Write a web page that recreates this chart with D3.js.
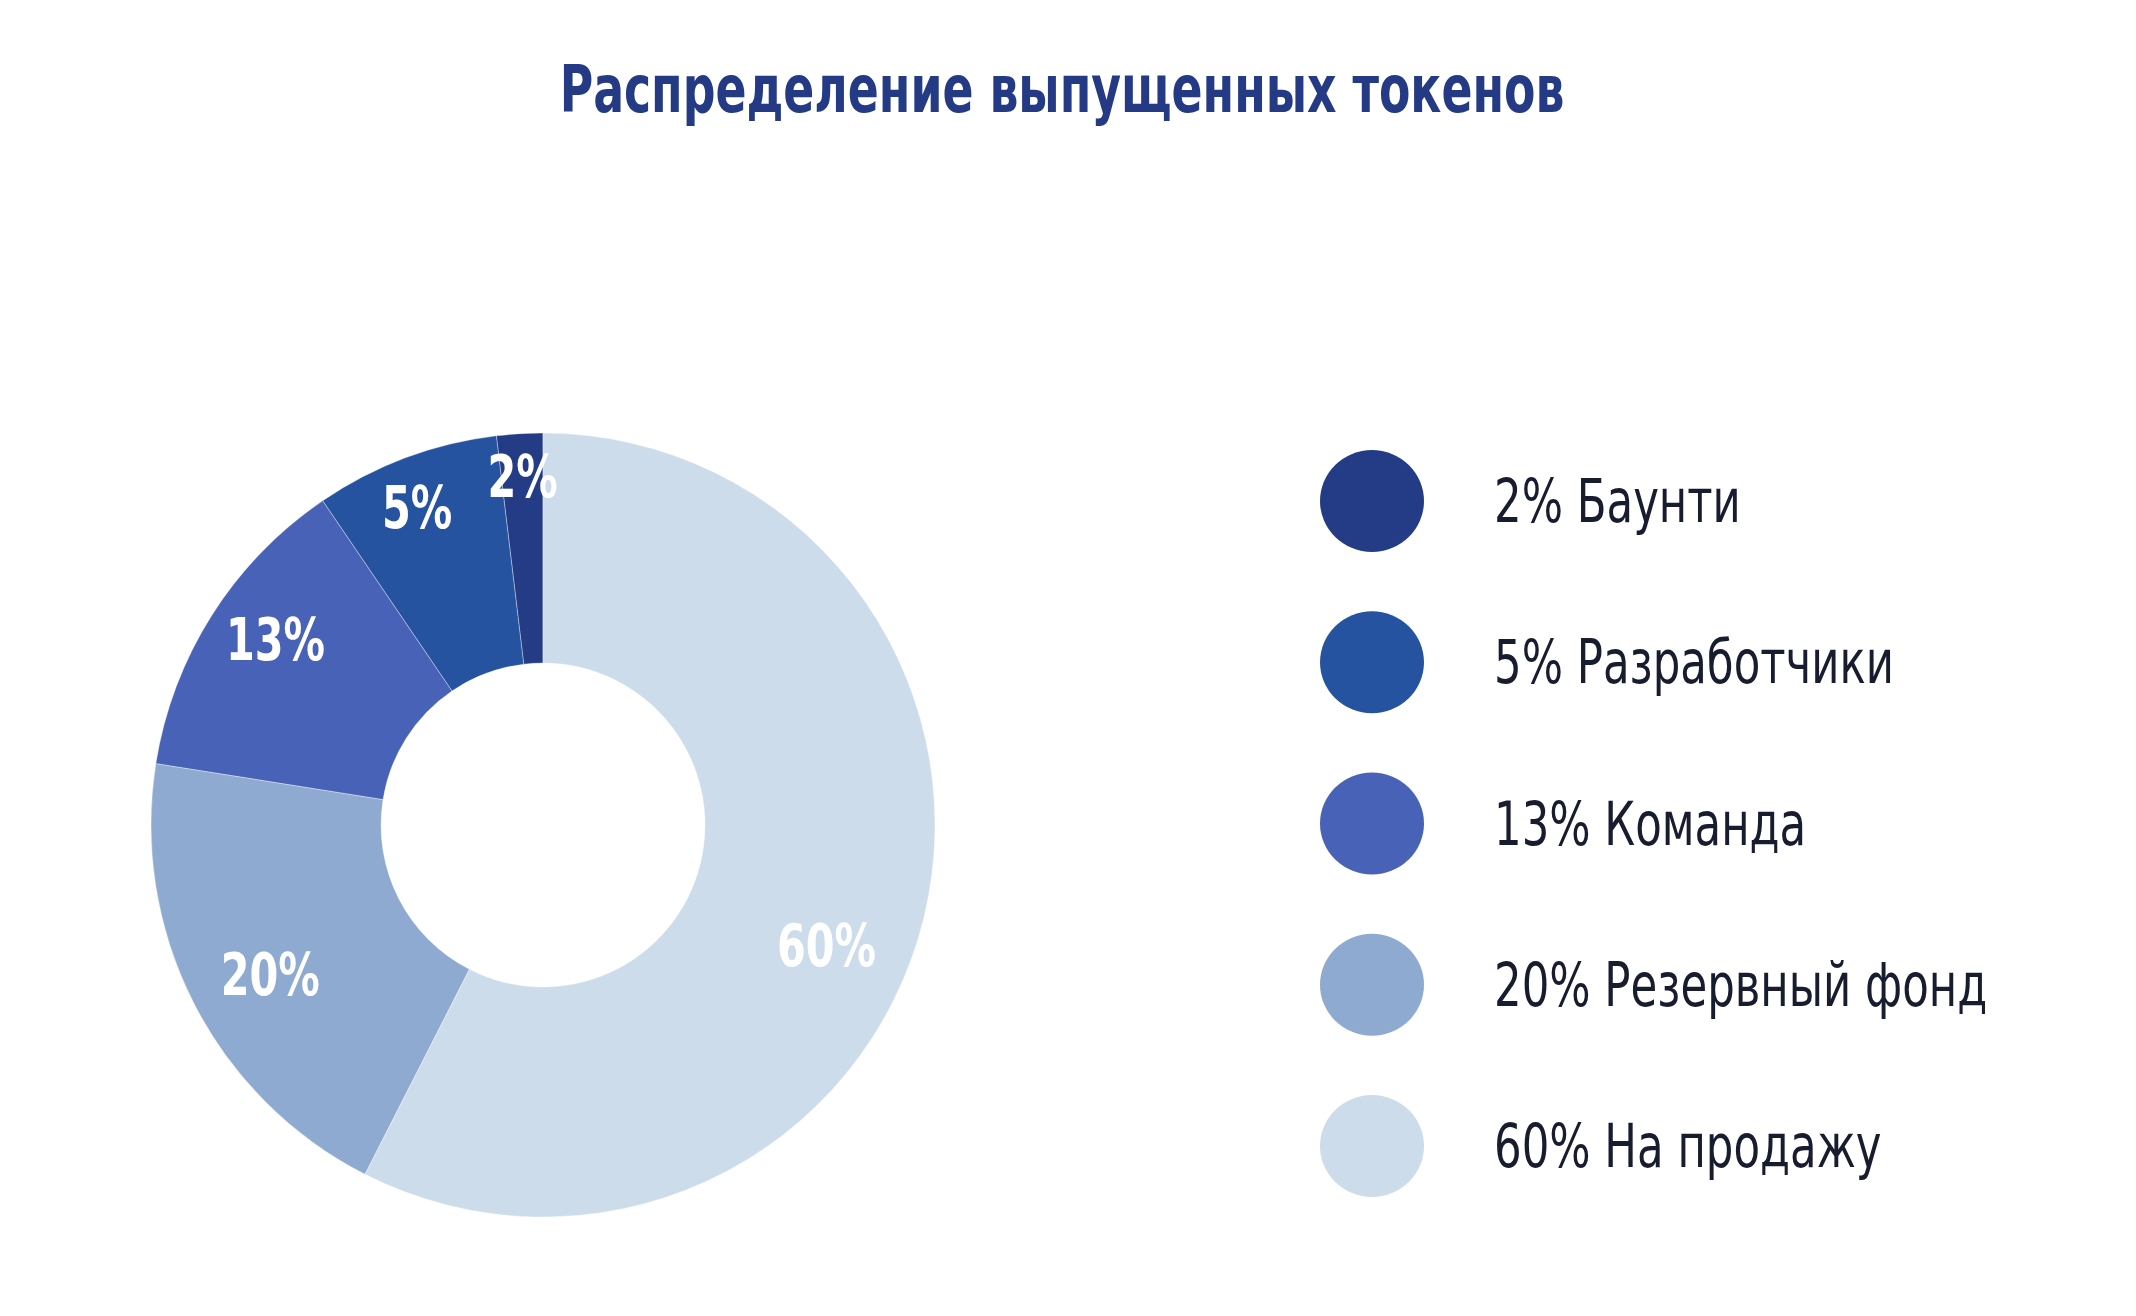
<!DOCTYPE html>
<html>
<head>
<meta charset="utf-8">
<script src="https://cdn.jsdelivr.net/npm/d3@7"></script>
<style>
  html, body { margin: 0; padding: 0; background: #ffffff; }
  svg { display: block; }
  .narrow { font-family: "Liberation Sans Narrow", "DejaVu Sans Condensed", "DejaVu Sans", sans-serif; }
</style>
</head>
<body>
<svg id="chart" width="2136" height="1316"></svg>
<script>
// ---- data ----
const title = "Распределение выпущенных токенов";
const categories = ["Баунти", "Разработчики", "Команда", "Резервный фонд", "На продажу"];
const percentLabels = ["2%", "5%", "13%", "20%", "60%"];
// slice sizes as drawn in the reference picture
const shares = [1.9, 7.6, 13.0, 20.0, 57.5];
const colors = ["#243b85", "#2653a0", "#4862b7", "#8eaad0", "#cddcea"];

// ---- style / layout ----
const cx = 543, cy = 825;
const outerR = 392, innerR = 162;
const narrowX = 0.78;                 // horizontal squeeze to mimic a narrow face
// small label placement nudges (px), same order as categories
const labelNudge = [[0, -8], [-12, -14], [0, -16], [5, 7], [-16, 48]];

const svg = d3.select("#chart");

function squeezedText(sel, x, y, sx) {
  return sel.append("text")
    .attr("class", "narrow")
    .attr("transform", `translate(${x},${y}) scale(${sx},1)`);
}

squeezedText(svg, 1062, 112, 0.77)
  .attr("text-anchor", "middle")
  .attr("font-weight", "bold")
  .attr("font-size", 66)
  .attr("fill", "#243a84")
  .text(title);

const data = categories.map((c, i) => ({ name: c, label: percentLabels[i], value: shares[i], color: colors[i], nudge: labelNudge[i] }));

const pie = d3.pie().value(d => d.value).sort(null)
  .startAngle(0).endAngle(-2 * Math.PI);
const arcs = pie(data);

const arc = d3.arc().innerRadius(innerR).outerRadius(outerR);

const g = svg.append("g").attr("transform", `translate(${cx},${cy})`);

g.selectAll("path.slice")
  .data(arcs)
  .join("path")
  .attr("class", "slice")
  .attr("d", arc)
  .attr("fill", d => d.data.color)
  .attr("stroke", "rgba(255,255,255,0.35)")
  .attr("stroke-width", 1);

// labels: narrow slices get pushed further out
g.selectAll("text.plabel")
  .data(arcs)
  .join("text")
  .attr("class", "plabel narrow")
  .attr("transform", d => {
    const span = Math.abs(d.endAngle - d.startAngle) * 180 / Math.PI;
    const r = 308 + 42 * Math.exp(-span / 30);
    const a = (d.startAngle + d.endAngle) / 2;
    const x = r * Math.sin(a) + d.data.nudge[0];
    const y = -r * Math.cos(a) + d.data.nudge[1];
    return `translate(${x},${y}) scale(${narrowX},1)`;
  })
  .attr("text-anchor", "middle")
  .attr("dy", "0.36em")
  .attr("font-weight", "bold")
  .attr("font-size", 59)
  .attr("fill", "#ffffff")
  .text(d => d.data.label);

// ---- legend ----
const ly = d3.scalePoint().domain(categories).range([501, 1146]);
const legend = svg.append("g");
const items = legend.selectAll("g.item").data(data).join("g")
  .attr("class", "item")
  .attr("transform", d => `translate(0,${ly(d.name)})`);

items.append("ellipse")
  .attr("cx", 1372).attr("cy", 0)
  .attr("rx", 52).attr("ry", 51)
  .attr("fill", d => d.color);

items.append("text")
  .attr("class", "narrow")
  .attr("transform", "translate(1494,0) scale(0.805,1)")
  .attr("dy", "0.35em")
  .attr("font-size", 60)
  .attr("fill", "#171c2e")
  .text(d => `${d.label} ${d.name}`);
</script>
</body>
</html>
